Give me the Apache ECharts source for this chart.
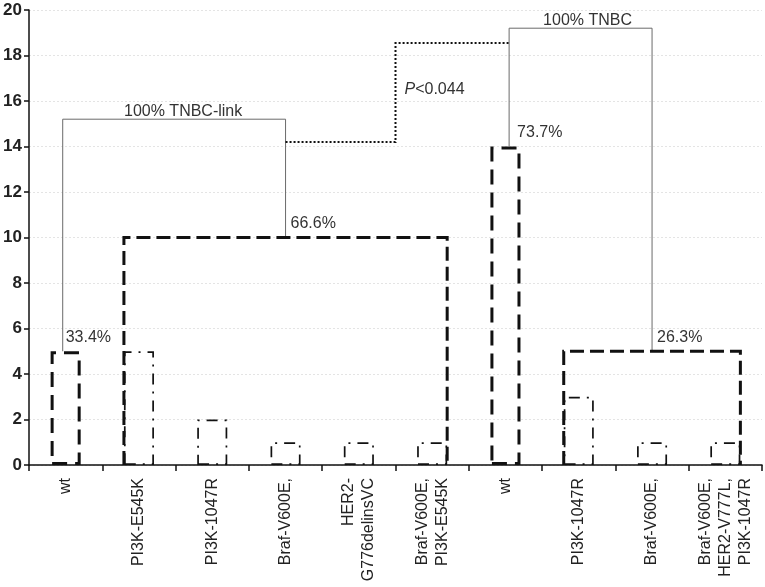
<!DOCTYPE html>
<html><head><meta charset="utf-8">
<script src="https://cdn.jsdelivr.net/npm/echarts@6/dist/echarts.min.js"></script>
<style>html,body{margin:0;padding:0;background:#fff}#c{width:765px;height:587px}</style>
</head><body><div id="c"></div>
<script>
// ---- data ----
const categories = ['wt','PI3K-E545K','PI3K-1047R','Braf-V600E,','HER2-\nG776delinsVC','Braf-V600E,\nPI3K-E545K','wt','PI3K-1047R','Braf-V600E,','Braf-V600E,\nHER2-V777L,\nPI3K-1047R'];
const counts = [5,5,2,1,1,1,14,3,1,1];
const yMin = 0, yMax = 20, yStep = 2;
const groupFirst = [1,7];
const groupLast = [5,9];
const groupHeights = [10,5];
const groupLabels = ['66.6%','26.3%'];
const wtIndex = [0,6];
const wtLabels = ['33.4%','73.7%'];
const clusterLabels = ['100% TNBC-link','100% TNBC'];
const clusterTops = [15.2,19.2];
const pLabel = '{i|P}<0.044';
const pLevels = [14.2,18.55];

const FONT = '"Liberation Sans", Arial, Helvetica, sans-serif';
const chart = echarts.init(document.getElementById('c'), null, {renderer:'canvas'});

function renderAnno(params, api){
  const bw = api.size([1,0])[0];
  const half = bw*0.205;
  const X = i => api.coord([i,0])[0];
  const Y = v => api.coord([0,v])[1];
  const ch = [];
  const boxMid = [];
  for (let g=0; g<2; g++){
    const x0 = X(groupFirst[g]) - half, x1 = X(groupLast[g]) + half;
    const yt = Y(groupHeights[g]), yb = Y(0);
    boxMid.push((x0+x1)/2);
    ch.push({type:'polyline', shape:{points:[[x0,yb],[x0,yt],[x1,yt],[x1,yb]]},
      style:{stroke:'#111', lineWidth:3, lineDash:[14,6], fill:null}, z2:5});
    ch.push({type:'text', style:{text:groupLabels[g], x:(x0+x1)/2+5, y:yt-14, textAlign:'left', textVerticalAlign:'middle', font:'16px '+FONT, fill:'#333'}});
  }
  const wtX = [X(wtIndex[0]) - 0.04*bw, X(wtIndex[1]) + 0.05*bw];
  for (let c=0; c<2; c++){
    const xa = wtX[c], xb = boxMid[c];
    const top = Y(clusterTops[c]);
    ch.push({type:'polyline', shape:{points:[[xa,Y(counts[wtIndex[c]])],[xa,top],[xb,top],[xb,Y(groupHeights[c])]]},
      style:{stroke:'#6a6a6a', lineWidth:1, fill:null}});
    ch.push({type:'text', style:{text:clusterLabels[c], x:(xa+xb)/2 + (c===0?9:7), y:top-8, textAlign:'center', textVerticalAlign:'middle', font:'16px '+FONT, fill:'#333'}});
    ch.push({type:'text', style:{text:wtLabels[c], x: c===0 ? X(wtIndex[0]) : xa+8, y:Y(counts[wtIndex[c]])-13.5, textAlign:'left', textVerticalAlign:'middle', font:'16px '+FONT, fill:'#333'}});
  }
  const xM = (X(4)+X(5))/2;
  ch.push({type:'polyline', shape:{points:[[boxMid[0],Y(pLevels[0])],[xM,Y(pLevels[0])],[xM,Y(pLevels[1])],[wtX[1],Y(pLevels[1])]]},
    style:{stroke:'#111', lineWidth:2, lineDash:[2,2], fill:null}});
  ch.push({type:'text', style:{text:pLabel, x:xM+9, y:(Y(pLevels[0])+Y(pLevels[1]))/2-3, textAlign:'left', textVerticalAlign:'middle',
    font:'16px '+FONT, fill:'#333', rich:{i:{fontStyle:'italic', fontSize:16, fontFamily:FONT, fill:'#333'}}}});
  return {type:'group', children:ch};
}

chart.setOption({
  animation:false,
  backgroundColor:'#fff',
  grid:{left:29, right:3, top:10, bottom:122, containLabel:false},
  xAxis:{type:'category', data:categories,
    axisLine:{lineStyle:{color:'#111', width:1.5}},
    axisTick:{show:true, length:6, lineStyle:{color:'#111', width:1.5}},
    axisLabel:{interval:0, rotate:90, margin:13, fontSize:16, fontFamily:FONT, color:'#222', lineHeight:20}},
  yAxis:{type:'value', min:yMin, max:yMax, interval:yStep,
    axisLine:{show:true, lineStyle:{color:'#111', width:1.5}},
    axisTick:{show:true, length:5, lineStyle:{color:'#111', width:1.5}},
    axisLabel:{margin:7, fontSize:17, fontWeight:'bold', fontFamily:FONT, color:'#222'},
    splitLine:{show:true, lineStyle:{color:'#e4e4e4', type:[2,2], width:1}}},
  series:[
    {type:'bar', barWidth:'41%', z:2,
     data: counts.map((v,i)=>({value:v, itemStyle: categories[i]==='wt'
       ? {color:'rgba(0,0,0,0)', borderColor:'#111', borderWidth:3, borderType:[15,8]}
       : {color:'rgba(0,0,0,0)', borderColor:'#111', borderWidth:1.7, borderType:[11,7,2,7]}}))},
    {type:'custom', z:3, clip:false, renderItem:renderAnno, data:[[0,0]], silent:true}
  ]
});
</script></body></html>
